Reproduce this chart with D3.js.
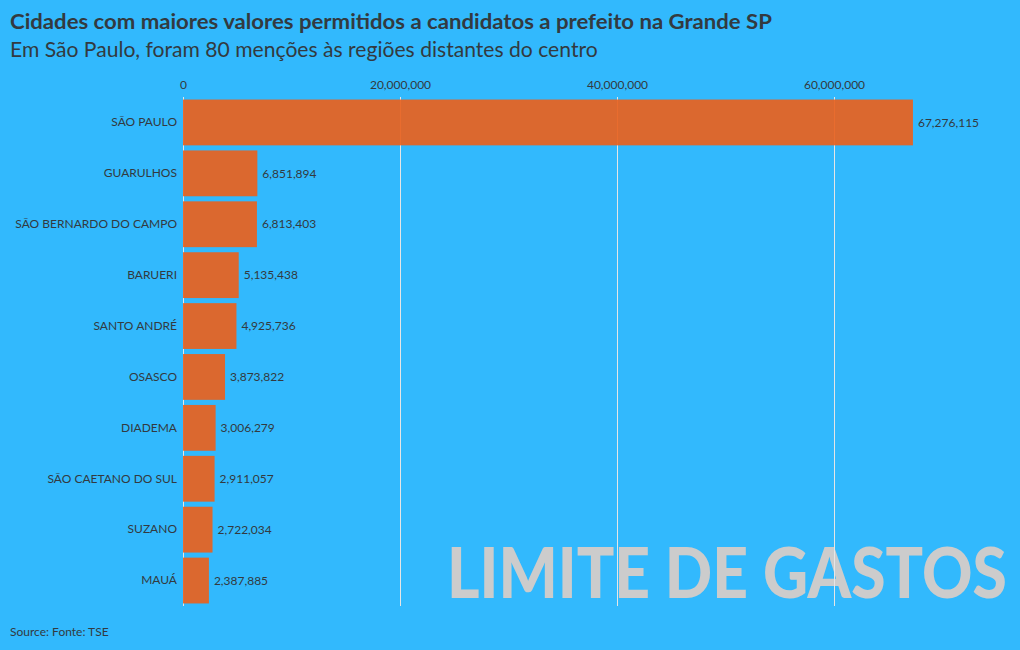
<!DOCTYPE html>
<html><head><meta charset="utf-8">
<script src="https://cdn.jsdelivr.net/npm/d3@7"></script>
<style>
html,body{margin:0;padding:0;background:#32b9fd;}
svg{display:block;font-family:Lato,"Open Sans",sans-serif;}
</style></head>
<body><svg id="c" width="1020" height="650"></svg>
<script>
const categories = ["SÃO PAULO","GUARULHOS","SÃO BERNARDO DO CAMPO","BARUERI","SANTO ANDRÉ","OSASCO","DIADEMA","SÃO CAETANO DO SUL","SUZANO","MAUÁ"];
const values = [67276115,6851894,6813403,5135438,4925736,3873822,3006279,2911057,2722034,2387885];
const tickValues = [0,20000000,40000000,60000000];
const title = "Cidades com maiores valores permitidos a candidatos a prefeito na Grande SP";
const subtitle = "Em São Paulo, foram 80 menções às regiões distantes do centro";
const source = "Source: Fonte: TSE";
const watermark = "LIMITE DE GASTOS";

const svg = d3.select("#c");
const W = 1020, H = 650;
const m = {left:183, top:97, bottom:606};
const x = d3.scaleLinear().domain([0, 70000000]).range([m.left, m.left + 70*10.85]);
const y = d3.scaleBand().domain(categories).range([m.top, m.bottom]).paddingInner(0.1).paddingOuter(0.05);
const fmt = d3.format(",");
const txt = "#333a40";

svg.append("rect").attr("width",W).attr("height",H).attr("fill","#32b9fd");

function fitText(sel, w){
  const n = sel.node().getComputedTextLength();
  const s = w / n;
  const x0 = +sel.attr("x"), y0 = +sel.attr("y");
  sel.attr("x",0).attr("y",0).attr("transform",`translate(${x0},${y0}) scale(${s},1)`);
}

fitText(svg.append("text").attr("x",10).attr("y",29).attr("fill",txt)
  .attr("font-size",21).attr("font-weight",700).text(title), 762);
fitText(svg.append("text").attr("x",10).attr("y",57).attr("fill",txt)
  .attr("font-size",21).text(subtitle), 588);

fitText(svg.append("text").attr("x",447).attr("y",598)
  .attr("fill","#cccccc").attr("font-size",70).attr("font-weight",900).text(watermark), 560);

// gridlines
svg.append("g").selectAll("line").data(tickValues).join("line")
  .attr("x1",d=>x(d)+0.5).attr("x2",d=>x(d)+0.5)
  .attr("y1",m.top).attr("y2",m.bottom)
  .attr("stroke","#e6e6e6").attr("stroke-width",1);

// top axis labels
const ax = svg.append("g").attr("transform",`translate(0,${m.top})`)
  .call(d3.axisTop(x).tickValues(tickValues).tickFormat(fmt).tickSize(0).tickPadding(8));
ax.select(".domain").remove();
ax.selectAll("text").attr("fill",txt).attr("font-size",12).attr("font-family","Lato,sans-serif");

// bars
svg.append("g").selectAll("rect").data(values).join("rect")
  .attr("x",x(0)).attr("y",(d,i)=>y(categories[i]))
  .attr("width",d=>x(d)-x(0)).attr("height",y.bandwidth())
  .attr("fill","#e8621f").attr("fill-opacity",0.93);

// value labels
svg.append("g").selectAll("text").data(values).join("text")
  .attr("x",d=>x(d)+5).attr("y",(d,i)=>y(categories[i])+y.bandwidth()/2)
  .attr("dy","0.35em").attr("fill",txt).attr("font-size",12).text(d=>fmt(d));

// category labels
const ay = svg.append("g").attr("transform",`translate(${m.left},0)`)
  .call(d3.axisLeft(y).tickSize(0).tickPadding(6));
ay.select(".domain").remove();
ay.selectAll("text").attr("fill",txt).attr("font-size",12).attr("font-family","Lato,sans-serif");

svg.append("text").attr("x",10).attr("y",636).attr("fill",txt).attr("font-size",12).text(source);
</script></body></html>
